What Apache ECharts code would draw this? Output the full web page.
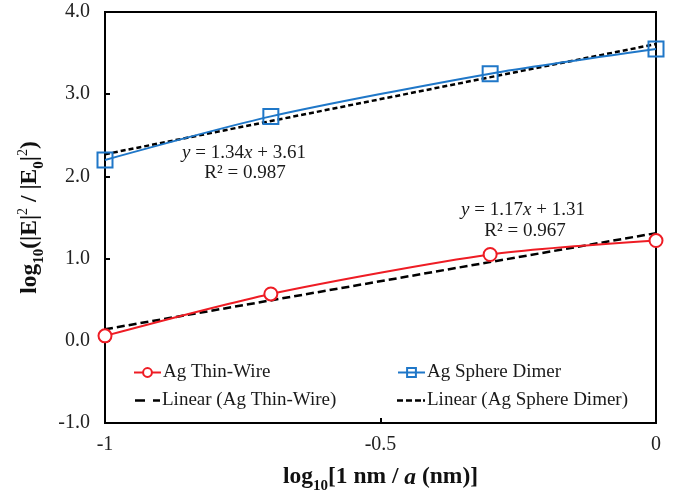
<!DOCTYPE html>
<html><head><meta charset="utf-8">
<script src="https://cdn.jsdelivr.net/npm/echarts@6/dist/echarts.min.js"></script>
<style>html,body{margin:0;padding:0;background:#fff}#c{width:673px;height:491px}</style>
</head><body><div id="c"></div>
<script>
var xValues = [-1, -0.699, -0.301, 0];
var thinWire = [0.06, 0.57, 1.05, 1.22];
var sphereDimer = [2.20, 2.73, 3.25, 3.55];
var fitThinWireEnds = [[-1, 0.14], [0, 1.31]];
var fitSphereEnds = [[-1, 2.27], [0, 3.61]];
var names = ['Ag Thin-Wire', 'Ag Sphere Dimer', 'Linear (Ag Thin-Wire)', 'Linear (Ag Sphere Dimer)'];
var eqThin = ['1.17', '1.31', 'R² = 0.967'];
var eqSphere = ['1.34', '3.61', 'R² = 0.987'];

function pairs(xs, ys) { return xs.map(function (x, i) { return [x, ys[i]]; }); }

var FONT = '"Liberation Serif", "Times New Roman", serif';
var chart = echarts.init(document.getElementById('c'));
function lg(name, left, top, extra) {
  return Object.assign({ data: [name], left: left, top: top, itemWidth: 27, itemHeight: 11, itemGap: 0, padding: 0,
    textStyle: { fontFamily: FONT, fontSize: 19, color: '#1a1a1a', padding: [0, 0, 0, -3] } }, extra || {});
}
var dashThin = 'path://M0,0H10V2.5H0Z M18,0H25V2.5H18Z';
var dashSphere = 'path://M0,0H6V2.5H0Z M9,0H15V2.5H9Z M18,0H24V2.5H18Z M26,0H28V2.5H26Z';

var eqRich = { i: { fontFamily: FONT, fontSize: 19, fontStyle: 'italic', fill: '#1a1a1a' }, n: { fontFamily: FONT, fontSize: 19, fill: '#1a1a1a' } };
var TF = 23.5;

chart.setOption({
  animation: false,
  backgroundColor: '#fff',
  grid: { left: 105, right: 17, top: 12, bottom: 68, show: true, borderColor: '#000', borderWidth: 2,
    containLabel: false, outerBoundsMode: 'none' },
  xAxis: {
    type: 'value', min: -1, max: 0, interval: 0.5,
    axisLine: { onZero: false, lineStyle: { color: '#000', width: 2 } },
    axisTick: { inside: true, length: 5, lineStyle: { color: '#000', width: 2 } },
    splitLine: { show: false },
    axisLabel: { fontFamily: FONT, fontSize: 20, color: '#222', margin: 12 },
    name: '{b|log}{s|10}{b|[1 nm / }{i|a}{b| (nm)]}',
    nameLocation: 'middle', nameGap: 38,
    nameTextStyle: { rich: {
      b: { fontFamily: FONT, fontSize: TF, fontWeight: 'bold', color: '#111', lineHeight: 28, verticalAlign: 'bottom' },
      i: { fontFamily: FONT, fontSize: TF, fontWeight: 'bold', fontStyle: 'italic', color: '#111', lineHeight: 28, verticalAlign: 'bottom' },
      s: { fontFamily: FONT, fontSize: 15, fontWeight: 'bold', color: '#111', lineHeight: 28, verticalAlign: 'bottom', padding: [0, 0, -5, 0] }
    } }
  },
  yAxis: {
    type: 'value', min: -1, max: 4, interval: 1,
    axisLine: { onZero: false, lineStyle: { color: '#000', width: 2 } },
    axisTick: { inside: true, length: 5, lineStyle: { color: '#000', width: 2 } },
    splitLine: { show: false },
    axisLabel: { fontFamily: FONT, fontSize: 20, color: '#222', margin: 15,
      formatter: function (v) { return v.toFixed(1); } },
    name: '{b|log}{s|10}{b|(|}{b|E}{b||}{p|2}{b| / |}{b|E}{s|0}{b||}{p|2}{b|)}',
    nameLocation: 'middle', nameGap: 63, nameRotate: 90,
    nameTextStyle: { rich: {
      b: { fontFamily: FONT, fontSize: TF, fontWeight: 'bold', color: '#111', lineHeight: 28, verticalAlign: 'bottom' },
      s: { fontFamily: FONT, fontSize: 15, fontWeight: 'bold', color: '#111', lineHeight: 28, verticalAlign: 'bottom', padding: [0, 0, -5, 0] },
      p: { fontFamily: FONT, fontSize: 14, color: '#111', lineHeight: 28, verticalAlign: 'top', padding: [2, 0, 0, 0] }
    } }
  },
  legend: [
    lg(names[0], 133, 363),
    lg(names[1], 397, 363),
    lg(names[2], 135, 391, { itemWidth: 25, itemHeight: 2.5, icon: dashThin }),
    lg(names[3], 397, 391, { itemWidth: 28, itemHeight: 2.5, icon: dashSphere })
  ],
  series: [
    { name: names[2], type: 'line', data: fitThinWireEnds, symbol: 'none', z: 3,
      lineStyle: { color: '#000', width: 2.5, type: [8, 4] }, itemStyle: { color: '#000' } },
    { name: names[3], type: 'line', data: fitSphereEnds, symbol: 'none', z: 3,
      lineStyle: { color: '#000', width: 2.5, type: [5, 3] }, itemStyle: { color: '#000' } },
    { name: names[0], type: 'line', data: pairs(xValues, thinWire), smooth: 0.25,
      symbol: 'circle', symbolSize: 13, z: 4,
      lineStyle: { color: '#ee1c24', width: 2 },
      itemStyle: { color: '#fff', borderColor: '#ee1c24', borderWidth: 2 } },
    { name: names[1], type: 'line', data: pairs(xValues, sphereDimer), smooth: 0.25,
      symbol: 'rect', symbolSize: 15, z: 4,
      lineStyle: { color: '#1f77c8', width: 2 },
      itemStyle: { color: 'rgba(255,255,255,0)', borderColor: '#1f77c8', borderWidth: 2 } }
  ],
  graphic: [
    { type: 'text', x: 244, y: 153, style: { text: '{i|y}{n| = ' + eqSphere[0] + '}{i|x}{n| + ' + eqSphere[1] + '}', align: 'center', verticalAlign: 'middle', rich: eqRich } },
    { type: 'text', x: 245, y: 173, style: { text: eqSphere[2], align: 'center', verticalAlign: 'middle', fontFamily: FONT, fontSize: 19, fill: '#1a1a1a' } },
    { type: 'text', x: 523, y: 210, style: { text: '{i|y}{n| = ' + eqThin[0] + '}{i|x}{n| + ' + eqThin[1] + '}', align: 'center', verticalAlign: 'middle', rich: eqRich } },
    { type: 'text', x: 525, y: 231, style: { text: eqThin[2], align: 'center', verticalAlign: 'middle', fontFamily: FONT, fontSize: 19, fill: '#1a1a1a' } }
  ]
});
</script></body></html>
